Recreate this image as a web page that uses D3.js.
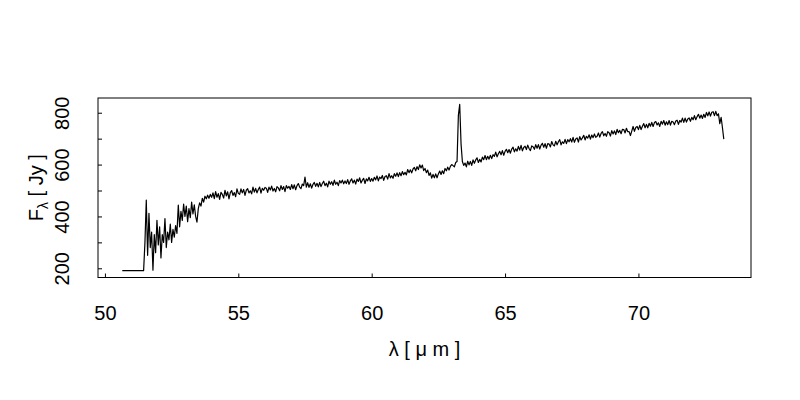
<!DOCTYPE html>
<html>
<head>
<meta charset="utf-8">
<script src="https://cdn.jsdelivr.net/npm/d3@7"></script>
<style>
  body { margin: 0; background: #fff; }
  svg { display: block; font-family: "Liberation Sans", Arial, Helvetica, sans-serif; }
</style>
</head>
<body>
<svg id="chart" width="800" height="400"></svg>
<script>
(function() {

  // spectrum sampled every 0.05 micron, split into pieces (each has its own start wavelength)
  var sampleStep = 0.05;

  var plateauStart = 50.65;
  var plateauFlux = [191, 191, 191, 191, 191, 191, 191, 191, 191, 191, 191, 191, 191, 191, 191, 191, 191];

  var edgeStart = 51.50;
  var edgeFlux = [
    300, 463, 250, 412, 280, 340, 193, 330, 260, 385,
    290, 360, 240, 330, 300, 392, 280, 340, 310, 370,
    300, 350, 320, 365, 335, 444, 360, 420, 385, 448,
    400, 440, 380, 430, 395, 455, 410, 445, 400, 378,
    430, 452, 440, 470, 455, 478, 468, 482, 470, 485,
    474
  ];

  var continuumStart = 54.05;
  var continuumFlux = [
    491, 469, 496, 474, 488, 466, 493, 485, 471, 501, 479, 495, 468, 492, 500, 481, 492, 476, 506, 489,
    485, 506, 491, 504, 481, 501, 507, 491, 499, 487, 513, 494, 508, 491, 504, 513, 490, 508, 501, 512,
    509, 493, 513, 502, 517, 498, 508, 495, 515, 510, 499, 519, 504, 515, 496, 519, 509, 516, 504, 523,
    507, 522, 503, 519, 527, 513, 507, 525, 519, 552, 513, 530, 512, 526, 509, 524, 531, 516, 528, 514,
    531, 515, 527, 536, 519, 528, 514, 536, 524, 534, 520, 540, 524, 532, 519, 538, 529, 540, 526, 537,
    527, 542, 524, 537, 545, 529, 540, 525, 544, 535, 549, 529, 540, 547, 527, 545, 537, 551, 535, 546,
    536, 551, 541, 556, 537, 552, 546, 558, 539, 554, 557, 544, 565, 549, 557, 547, 565, 555, 568, 554,
    569, 557, 573, 561, 570, 560, 581, 569, 580, 568, 583, 589, 576, 592, 581, 599, 587, 598, 577, 585,
    569, 579, 558, 568, 548, 562, 549, 564, 549, 564, 575, 562, 576, 565, 585, 576, 590, 579, 593, 600,
    596, 591, 608
  ];

  var lineStart = 63.20;
  var lineFlux = [612, 790, 832, 680, 612];

  var redStart = 63.45;
  var redFlux = [
    597, 606, 591, 613, 599, 612, 597, 618, 605, 618, 626, 608, 620, 610, 629, 619, 635, 619, 632, 621,
    636, 623, 638, 632, 648, 630, 642, 651, 638, 654, 636, 651, 659, 646, 658, 644, 660, 667, 649, 661,
    652, 670, 656, 674, 653, 666, 671, 658, 675, 662, 654, 672, 669, 659, 677, 663, 677, 660, 675, 682,
    667, 681, 663, 681, 679, 668, 689, 676, 672, 690, 676, 688, 696, 676, 688, 682, 697, 681, 696, 688,
    700, 687, 705, 686, 699, 703, 687, 708, 695, 703, 713, 695, 709, 702, 715, 698, 714, 704, 718, 705,
    709, 722, 706, 720, 727, 711, 720, 709, 727, 723, 710, 731, 718, 730, 716, 736, 723, 732, 719, 736,
    735, 722, 740, 727, 727, 712, 729, 747, 728, 743, 747, 735, 751, 735, 748, 758, 742, 755, 742, 759,
    748, 763, 747, 762, 766, 753, 761, 747, 767, 756, 770, 752, 765, 754, 770, 752, 767, 764, 754, 768,
    771, 755, 770, 764, 779, 763, 779, 764, 776, 780, 767, 782, 773, 789, 773, 785, 794, 779, 791, 778,
    794, 782, 801, 788, 803, 787, 802, 804, 789, 805, 789, 796, 758, 782, 742, 698
  ];

  var xTicks = [50, 55, 60, 65, 70];
  var yTicks = [200, 300, 400, 500, 600, 700, 800];
  var yLabelled = [200, 400, 600, 800];

  var xTitle = "λ [ μ m ]";

  // plot box (pixels)
  var box = { left: 98, top: 98, right: 751, bottom: 277.5 };
  var fontSize = 20;

  var points = [];
  function addPiece(start, values) {
    values.forEach(function(v, i) {
      points.push({ lambda: +(start + i * sampleStep).toFixed(2), flux: v });
    });
  }
  addPiece(plateauStart, plateauFlux);
  addPiece(edgeStart, edgeFlux);
  addPiece(continuumStart, continuumFlux);
  addPiece(lineStart, lineFlux);
  addPiece(redStart, redFlux);

  var svg = d3.select("#chart");

  var x = d3.scaleLinear()
    .domain([49.74, 74.22])
    .range([box.left, box.right]);

  var y = d3.scaleLinear()
    .domain([164.5, 856.8])
    .range([box.bottom, box.top]);

  // the spectrum itself
  var line = d3.line()
    .x(function(d) { return x(d.lambda); })
    .y(function(d) { return y(d.flux); });

  svg.append("path")
    .datum(points)
    .attr("d", line)
    .attr("fill", "none")
    .attr("stroke", "#000")
    .attr("stroke-width", 1.2)
    .attr("stroke-linejoin", "round");

  // ticks point inwards, like the R plot
  var xAxis = svg.append("g")
    .attr("transform", "translate(0," + box.bottom + ")")
    .call(d3.axisBottom(x).tickValues(xTicks).tickSizeInner(-4).tickSizeOuter(0).tickFormat(d3.format("d")));

  xAxis.select(".domain").remove();
  xAxis.selectAll(".tick line").attr("stroke", "#000");
  xAxis.selectAll(".tick text")
    .attr("y", 42)
    .attr("dy", 0)
    .attr("fill", "#000")
    .style("font-size", fontSize + "px")
    .style("font-family", "'Liberation Sans', Arial, sans-serif");

  var yAxis = svg.append("g")
    .attr("transform", "translate(" + box.left + ",0)")
    .call(d3.axisLeft(y).tickValues(yTicks).tickSizeInner(-4).tickSizeOuter(0)
      .tickFormat(function(d) { return yLabelled.indexOf(d) >= 0 ? d : ""; }));

  yAxis.select(".domain").remove();
  yAxis.selectAll(".tick line").attr("stroke", "#000");
  // labels stand on their side, reading upwards
  yAxis.selectAll(".tick text")
    .attr("x", 0)
    .attr("y", -29)
    .attr("dy", 0)
    .attr("transform", "rotate(-90)")
    .attr("text-anchor", "middle")
    .attr("fill", "#000")
    .style("font-size", fontSize + "px")
    .style("font-family", "'Liberation Sans', Arial, sans-serif");

  svg.append("rect")
    .attr("x", box.left)
    .attr("y", box.top)
    .attr("width", box.right - box.left)
    .attr("height", box.bottom - box.top)
    .attr("fill", "none")
    .attr("stroke", "#000")
    .attr("stroke-width", 1);

  svg.append("text")
    .attr("x", (box.left + box.right) / 2)
    .attr("y", 356)
    .attr("text-anchor", "middle")
    .style("font-size", fontSize + "px")
    .text(xTitle);

  var yTitle = svg.append("text")
    .attr("transform", "translate(43," + ((box.top + box.bottom) / 2) + ") rotate(-90)")
    .attr("text-anchor", "middle")
    .style("font-size", fontSize + "px");
  yTitle.append("tspan").text("F");
  yTitle.append("tspan").attr("dy", 5).style("font-size", "14px").text("λ");
  yTitle.append("tspan").attr("dy", -5).text(" [ Jy ]");

}());
</script>
</body>
</html>
